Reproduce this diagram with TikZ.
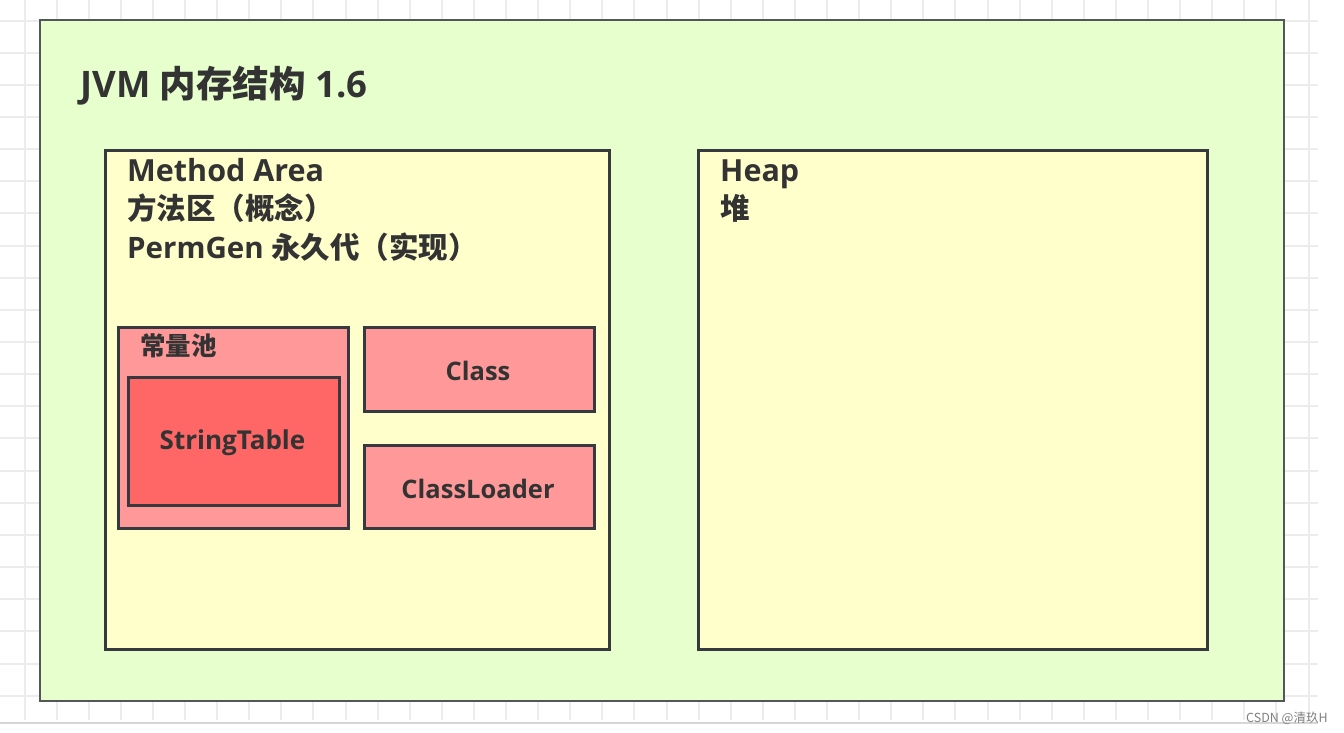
\documentclass[tikz,border=0pt]{standalone}
\usepackage{fontspec}
\setmainfont{Open Sans}
\newfontfamily\cjk{Noto Sans CJK SC}
\definecolor{gridc}{RGB}{236,236,236}
\definecolor{greenf}{RGB}{230,255,204}
\definecolor{yellowf}{RGB}{255,255,204}
\definecolor{pinkf}{RGB}{255,153,153}
\definecolor{redf}{RGB}{255,102,102}
\definecolor{strokec}{RGB}{54,57,61}
\definecolor{txt}{RGB}{51,51,51}
\tikzset{
  gridline/.style={draw=gridc, line width=2pt},
  outerbox/.style={draw=strokec!85!white, line width=2pt, fill=greenf, rectangle, inner sep=0pt, anchor=north west},
  areabox/.style={draw=strokec, line width=3pt, fill=yellowf, rectangle, inner sep=0pt, anchor=north west},
  itembox/.style={draw=strokec, line width=2.6pt, fill=pinkf, rectangle, inner sep=0pt, anchor=north west},
  strbox/.style={draw=strokec, line width=2.6pt, fill=redf, rectangle, inner sep=0pt, anchor=north west},
  bigtitle/.style={anchor=base west, inner sep=0pt, text=txt, font=\bfseries\fontsize{36.5}{42}\selectfont},
  headtxt/.style={anchor=base west, inner sep=0pt, text=txt, font=\bfseries\fontsize{29.5}{34}\selectfont},
  itemtxt/.style={inner sep=0pt, text=txt, font=\bfseries\fontsize{25.5}{30}\selectfont},
}
\begin{document}
\begin{tikzpicture}[x=1pt,y=-1pt]
\useasboundingbox (0,0) rectangle (1344,732);
\fill[white] (0,0) rectangle (1344,732);
% grid
\foreach \i in {0,...,40} \draw[gridline] ({24.5+32.1*\i},0) -- ({24.5+32.1*\i},720);
\foreach \j in {0,...,21} \draw[gridline] (0,{20.5+32.15*\j}) -- (1318,{20.5+32.15*\j});
\draw[draw=gridc!80!gray, line width=2pt] (0,723) -- (1318,723);
% boxes
\node[outerbox, minimum width=1244pt, minimum height=681pt] (jvm) at (39,19) {};
\node[areabox, minimum width=504pt, minimum height=499pt] (method) at (104,149) {};
\node[areabox, minimum width=509pt, minimum height=499pt] (heap) at (697,149) {};
\node[itembox, minimum width=230pt, minimum height=201pt] (pool) at (117,326) {};
\node[strbox, minimum width=211pt, minimum height=128pt] (strtab) at (127,376) {};
\node[itembox, minimum width=230pt, minimum height=84pt] (class) at (363,326) {};
\node[itembox, minimum width=230pt, minimum height=83pt] (loader) at (363,444) {};
% texts
\node[bigtitle] (title) at (80,97) {JVM {\cjk 内存结构} 1.6};
\node[headtxt] (ma1) at (127,181) {{\fontsize{30.5}{34}\selectfont Method Area}};
\node[headtxt] (ma2) at (127,219) {\cjk 方法区（概念）};
\node[headtxt] (ma3) at (127,258) {PermGen {\cjk 永久代（实现）}};
\node[headtxt] (hp1) at (720,181) {{\fontsize{30.5}{34}\selectfont Heap}};
\node[headtxt] (hp2) at (720,219) {\cjk 堆};
\node[itemtxt, anchor=base west] (pooltxt) at (140,355) {\cjk 常量池};
\node[itemtxt] (sttxt) at (232.5,443) {{\fontsize{26}{30}\selectfont StringTable}};
\node[itemtxt] (cltxt) at (478,371) {Class};
\node[itemtxt] (ldtxt) at (478,489) {ClassLoader};
\node[anchor=base west, inner sep=0pt, text=gray, font=\cjk\fontsize{12.5}{14}\selectfont] (wm) at (1246,722) {CSDN @清玖H};
\end{tikzpicture}
\end{document}
